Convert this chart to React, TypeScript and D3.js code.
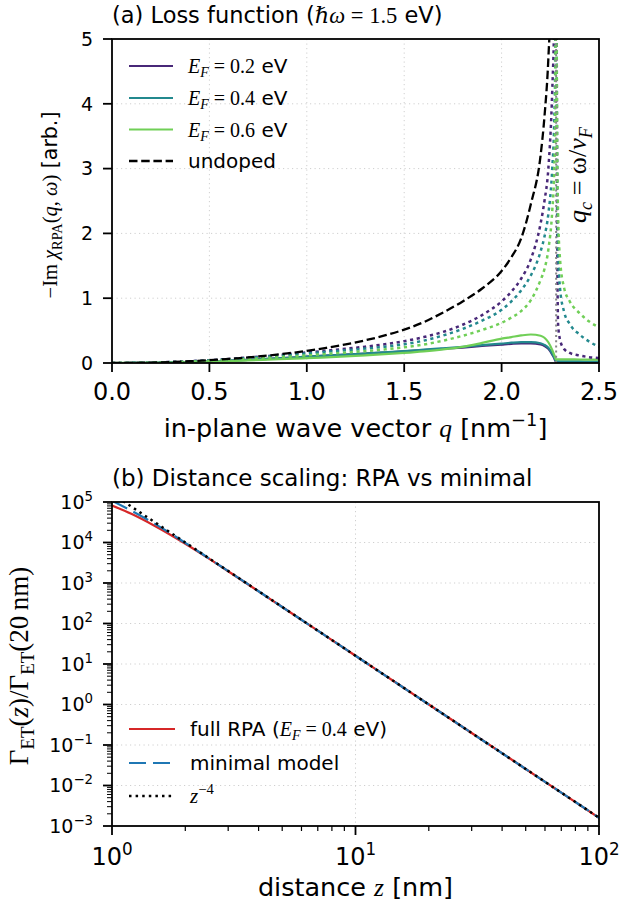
import React from "react";
import * as d3 from "d3";

// ---------- DATA ----------
const qGrid = [0, 0.1, 0.2, 0.3, 0.4, 0.5, 0.6, 0.7, 0.8, 0.9, 1.0, 1.1, 1.2, 1.3, 1.4, 1.5, 1.6, 1.7, 1.8, 1.9, 2.0, 2.05, 2.1, 2.15, 2.2, 2.22, 2.24, 2.26, 2.27, 2.275, 2.28, 2.285, 2.29, 2.3, 2.32, 2.35, 2.4, 2.45, 2.5];

const solidEF02 = [0, 0.001, 0.004, 0.009, 0.016, 0.025, 0.036, 0.049, 0.064, 0.08, 0.097, 0.113, 0.13, 0.146, 0.162, 0.18, 0.198, 0.218, 0.238, 0.262, 0.285, 0.296, 0.303, 0.303, 0.285, 0.262, 0.22, 0.13, 0.075, 0.04, 0.012, 0.01, 0.01, 0.01, 0.01, 0.01, 0.01, 0.01, 0.01];
const solidEF04 = [0, 0.001, 0.004, 0.009, 0.016, 0.025, 0.036, 0.049, 0.064, 0.08, 0.097, 0.113, 0.13, 0.147, 0.165, 0.184, 0.205, 0.227, 0.25, 0.276, 0.3, 0.313, 0.322, 0.323, 0.305, 0.28, 0.235, 0.145, 0.085, 0.05, 0.025, 0.025, 0.025, 0.025, 0.025, 0.024, 0.024, 0.023, 0.023];
const solidEF06 = [0, 0.001, 0.003, 0.008, 0.014, 0.021, 0.03, 0.04, 0.051, 0.063, 0.075, 0.088, 0.102, 0.118, 0.136, 0.156, 0.18, 0.21, 0.25, 0.31, 0.375, 0.4, 0.425, 0.44, 0.42, 0.39, 0.32, 0.2, 0.125, 0.085, 0.05, 0.058, 0.058, 0.057, 0.056, 0.055, 0.054, 0.052, 0.05];

const dottedEF02 = [0, 0.002, 0.007, 0.016, 0.028, 0.044, 0.063, 0.085, 0.108, 0.135, 0.163, 0.19, 0.22, 0.252, 0.29, 0.337, 0.4, 0.48, 0.59, 0.74, 0.95, 1.1, 1.3, 1.6, 2.15, 2.5, 3.0, 4.2, 5.3, 6.5, 9, 2.3, 0.6, 0.36, 0.22, 0.155, 0.115, 0.09, 0.075];
const dottedEF04 = [0, 0.002, 0.006, 0.014, 0.025, 0.04, 0.057, 0.077, 0.098, 0.122, 0.148, 0.172, 0.196, 0.222, 0.252, 0.29, 0.345, 0.425, 0.525, 0.655, 0.82, 0.95, 1.12, 1.35, 1.72, 1.95, 2.3, 3.0, 3.7, 4.5, 7, 3.0, 1.75, 1.15, 0.8, 0.6, 0.44, 0.33, 0.25];
const dottedEF06 = [0, 0.001, 0.005, 0.012, 0.021, 0.033, 0.047, 0.062, 0.079, 0.097, 0.117, 0.138, 0.16, 0.183, 0.21, 0.242, 0.285, 0.345, 0.42, 0.51, 0.62, 0.7, 0.8, 0.97, 1.28, 1.45, 1.75, 2.35, 2.95, 3.7, 6, 3.3, 2.3, 1.6, 1.17, 0.95, 0.77, 0.64, 0.55];

const qUndoped = [0, 0.1, 0.2, 0.3, 0.4, 0.5, 0.6, 0.7, 0.8, 0.9, 1.0, 1.1, 1.2, 1.3, 1.4, 1.5, 1.6, 1.7, 1.8, 1.9, 2.0, 2.05, 2.1, 2.15, 2.2, 2.22, 2.24, 2.26, 2.27];
const undoped = [0, 0.002, 0.007, 0.015, 0.027, 0.043, 0.063, 0.087, 0.115, 0.148, 0.187, 0.233, 0.287, 0.35, 0.425, 0.515, 0.63, 0.78, 0.95, 1.15, 1.42, 1.63, 1.92, 2.45, 3.2, 3.8, 4.7, 6.5, 9];

const qCritical = 2.28;

const zVals = [1, 1.2, 1.5, 2, 2.5, 3, 4, 5, 7, 10, 15, 20, 30, 50, 70, 100];
const fullRPA = [8.2e4, 5.1e4, 2.55e4, 9.3e3, 4.0e3, 1.95e3, 620, 255, 66.5, 16, 3.16, 1, 0.1975, 0.0256, 0.00666, 0.0016];
const minimalModel = [1.07e5, 6.1e4, 2.88e4, 9.8e3, 4.07e3, 1.97e3, 625, 256, 66.6, 16, 3.16, 1, 0.1975, 0.0256, 0.00666, 0.0016];
const powerLaw = [1.6e5, 7.72e4, 3.16e4, 1e4, 4096, 1975, 625, 256, 66.6, 16, 3.16, 1, 0.1975, 0.0256, 0.00666, 0.0016];

const xTicksA = [0, 0.5, 1.0, 1.5, 2.0, 2.5];
const xTickLabelsA = ["0.0", "0.5", "1.0", "1.5", "2.0", "2.5"];
const yTicksA = [0, 1, 2, 3, 4, 5];
const xTicksB = [1, 10, 100];
const xTickExpB = ["0", "1", "2"];
const yTicksB = [1e-3, 1e-2, 1e-1, 1, 1e1, 1e2, 1e3, 1e4, 1e5];
const yTickExpB = ["\u22123", "\u22122", "\u22121", "0", "1", "2", "3", "4", "5"];

const efLabels = ["0.2", "0.4", "0.6"];
const efColors = ["#482878", "#23898e", "#70cf57"];

// ---------- FONTS ----------
const SANS = "'DejaVu Sans', sans-serif";
const MATH = "'Liberation Serif', 'DejaVu Serif', serif";

type Seg = { t: string; m?: boolean; i?: boolean; s?: "sub" | "sup" };

function Rich(props: { x: number; y: number; size: number; anchor?: string; segs: Seg[]; transform?: string }) {
  const { x, y, size, anchor = "start", segs, transform } = props;
  let cur = 0;
  return (
    <text x={x} y={y} fontSize={size} textAnchor={anchor} transform={transform} fill="#000" fontFamily={SANS} style={{ whiteSpace: "pre" }}>
      {segs.map((s, k) => {
        const target = s.s === "sub" ? 0.22 * size : s.s === "sup" ? -0.42 * size : 0;
        const d = target - cur;
        cur = target;
        return (
          <tspan key={k} dy={d} fontFamily={s.m ? MATH : SANS} fontStyle={s.i ? "italic" : "normal"} fontSize={s.s ? size * 0.7 : size}>
            {s.t}
          </tspan>
        );
      })}
    </text>
  );
}

// ---------- LAYOUT ----------
const L = 112, R = 599;
const A_T = 39, A_B = 363;
const B_T = 502, B_B = 826;

const xA = d3.scaleLinear().domain([0, 2.5]).range([L, R]);
const yA = d3.scaleLinear().domain([0, 5]).range([A_B, A_T]);
const xB = d3.scaleLog().domain([1, 100]).range([L, R]);
const yB = d3.scaleLog().domain([1e-3, 1e5]).range([B_B, B_T]);

const lineA = (qs: number[], vs: number[]) =>
  d3.line<number>().x((_, i) => xA(qs[i])).y((v) => yA(v)).curve(d3.curveMonotoneX)(vs) || "";
const lineB = (vs: number[]) =>
  d3.line<number>().x((_, i) => xB(zVals[i])).y((v) => yB(v)).curve(d3.curveMonotoneX)(vs) || "";

const GRID = "#cfcfcf";
const DOT = "3.2,3.6";

export default function App() {
  const solids = [solidEF02, solidEF04, solidEF06];
  const dotted = [dottedEF02, dottedEF04, dottedEF06];
  const minorX: number[] = [];
  [1, 10].forEach((d) => { for (let k = 2; k <= 9; k++) minorX.push(d * k); });
  const minorY: number[] = [];
  for (let e = -3; e < 5; e++) for (let k = 2; k <= 9; k++) minorY.push(k * Math.pow(10, e));

  return (
    <svg width={621} height={906} style={{ position: "absolute", left: 0, top: 0, background: "#fff" }}>
      <defs>
        <clipPath id="clipA"><rect x={L} y={A_T} width={R - L} height={A_B - A_T} /></clipPath>
        <clipPath id="clipB"><rect x={L} y={B_T} width={R - L} height={B_B - B_T} /></clipPath>
      </defs>
      <rect x={0} y={0} width={621} height={906} fill="#fff" />

      {/* ===== Panel A ===== */}
      <Rich x={L} y={23} size={22.5} segs={[
        { t: "(a) Loss function (" }, { t: "\u210F\u03C9", m: true, i: true }, { t: " = 1.5", m: true }, { t: " eV)" },
      ]} />
      {xTicksA.slice(1, -1).map((t) => (
        <line key={"gxa" + t} x1={xA(t)} x2={xA(t)} y1={A_T} y2={A_B} stroke={GRID} strokeWidth={1} strokeDasharray="1.2,3.3" />
      ))}
      {yTicksA.slice(1, -1).map((t) => (
        <line key={"gya" + t} x1={L} x2={R} y1={yA(t)} y2={yA(t)} stroke={GRID} strokeWidth={1} strokeDasharray="1.2,3.3" />
      ))}
      <g clipPath="url(#clipA)" fill="none">
        {solids.map((s, i) => (
          <path key={"s" + i} d={lineA(qGrid, s)} stroke={efColors[i]} strokeWidth={2.2} />
        ))}
        {dotted.map((s, i) => (
          <path key={"d" + i} d={lineA(qGrid, s)} stroke={efColors[i]} strokeWidth={2.5} strokeDasharray={DOT} />
        ))}
        <path d={lineA(qUndoped, undoped)} stroke="#000" strokeWidth={2.3} strokeDasharray="8.5,3.7" />
        <line x1={xA(qCritical)} x2={xA(qCritical)} y1={A_B} y2={A_T} stroke="#888" strokeWidth={2} strokeDasharray="2,3.2" />
      </g>
      <Rich x={586} y={175} size={26} anchor="middle" transform="rotate(-90 586 175)" segs={[
        { t: "q", m: true, i: true }, { t: "c", m: true, i: true, s: "sub" }, { t: " = \u03C9/", m: true }, { t: "v", m: true, i: true }, { t: "F", m: true, i: true, s: "sub" },
      ]} />
      {/* legend A */}
      {efLabels.map((lab, i) => {
        const y = [66, 98, 129.5][i];
        return (
          <g key={"la" + i}>
            <line x1={129} x2={173} y1={y} y2={y} stroke={efColors[i]} strokeWidth={2.2} />
            <Rich x={188} y={y + 7} size={20} segs={[
              { t: "E", m: true, i: true }, { t: "F", m: true, i: true, s: "sub" }, { t: " = " + lab, m: true }, { t: " eV" },
            ]} />
          </g>
        );
      })}
      <line x1={129} x2={173} y1={161} y2={161} stroke="#000" strokeWidth={2.3} strokeDasharray="8.5,3.7" />
      <Rich x={188} y={168} size={20} segs={[{ t: "undoped" }]} />

      {/* axes A */}
      <rect x={L} y={A_T} width={R - L} height={A_B - A_T} fill="none" stroke="#000" strokeWidth={1.8} />
      {xTicksA.map((t, i) => (
        <g key={"xta" + t}>
          <line x1={xA(t)} x2={xA(t)} y1={A_B} y2={A_B + 9} stroke="#000" strokeWidth={1.8} />
          <text x={xA(t)} y={400} fontSize={24} fontFamily={SANS} textAnchor="middle">{xTickLabelsA[i]}</text>
        </g>
      ))}
      {yTicksA.map((t) => (
        <g key={"yta" + t}>
          <line x1={L - 9} x2={L} y1={yA(t)} y2={yA(t)} stroke="#000" strokeWidth={1.8} />
          <text x={93} y={yA(t) + 6.8} fontSize={19} fontFamily={SANS} textAnchor="end">{t}</text>
        </g>
      ))}
      <Rich x={355.5} y={437} size={25.5} anchor="middle" segs={[
        { t: "in-plane wave vector " }, { t: "q", m: true, i: true }, { t: " [nm" }, { t: "\u22121", s: "sup" }, { t: "]" },
      ]} />
      <Rich x={57} y={205} size={20.5} anchor="middle" transform="rotate(-90 57 205)" segs={[
        { t: "\u2212Im ", m: true }, { t: "\u03C7", m: true, i: true }, { t: "RPA", m: true, s: "sub" }, { t: "(", m: true }, { t: "q", m: true, i: true }, { t: ", ", m: true }, { t: "\u03C9", m: true, i: true }, { t: ")", m: true }, { t: " [arb.]" },
      ]} />

      {/* ===== Panel B ===== */}
      <Rich x={L} y={486} size={23} segs={[{ t: "(b) Distance scaling: RPA vs minimal" }]} />
      {xTicksB.slice(1, -1).map((t) => (
        <line key={"gxb" + t} x1={xB(t)} x2={xB(t)} y1={B_T} y2={B_B} stroke={GRID} strokeWidth={1} strokeDasharray="1.2,3.3" />
      ))}
      {yTicksB.slice(1, -1).map((t) => (
        <line key={"gyb" + t} x1={L} x2={R} y1={yB(t)} y2={yB(t)} stroke={GRID} strokeWidth={1} strokeDasharray="1.2,3.3" />
      ))}
      <g clipPath="url(#clipB)" fill="none">
        <path d={lineB(fullRPA)} stroke="#d62728" strokeWidth={2.2} />
        <path d={lineB(minimalModel)} stroke="#1f77b4" strokeWidth={2.2} strokeDasharray="17,7" />
        <path d={lineB(powerLaw)} stroke="#000" strokeWidth={2.5} strokeDasharray="2.5,4.1" />
      </g>
      {/* legend B */}
      <line x1={129} x2={175} y1={729} y2={729} stroke="#d62728" strokeWidth={2.2} />
      <Rich x={190} y={736} size={20} segs={[
        { t: "full RPA (" }, { t: "E", m: true, i: true }, { t: "F", m: true, i: true, s: "sub" }, { t: " = 0.4", m: true }, { t: " eV)" },
      ]} />
      <line x1={129} x2={175} y1={763} y2={763} stroke="#1f77b4" strokeWidth={2.2} strokeDasharray="17,7" />
      <Rich x={190} y={770} size={20} segs={[{ t: "minimal model" }]} />
      <line x1={129} x2={175} y1={796} y2={796} stroke="#000" strokeWidth={2.5} strokeDasharray="2.5,4.1" />
      <Rich x={190} y={803} size={21} segs={[{ t: "z", m: true, i: true }, { t: "\u22124", m: true, s: "sup" }]} />

      {/* axes B */}
      <rect x={L} y={B_T} width={R - L} height={B_B - B_T} fill="none" stroke="#000" strokeWidth={1.8} />
      {minorX.map((t) => (
        <line key={"mxb" + t} x1={xB(t)} x2={xB(t)} y1={B_B} y2={B_B + 5} stroke="#000" strokeWidth={1.2} />
      ))}
      {minorY.map((t, i) => (
        <line key={"myb" + i} x1={L - 5} x2={L} y1={yB(t)} y2={yB(t)} stroke="#000" strokeWidth={1} />
      ))}
      {xTicksB.map((t, i) => (
        <g key={"xtb" + t}>
          <line x1={xB(t)} x2={xB(t)} y1={B_B} y2={B_B + 9} stroke="#000" strokeWidth={1.8} />
          <Rich x={xB(t)} y={865} size={24} anchor="middle" segs={[{ t: "10" }, { t: xTickExpB[i], s: "sup" }]} />
        </g>
      ))}
      {yTicksB.map((t, i) => (
        <g key={"ytb" + i}>
          <line x1={L - 9} x2={L} y1={yB(t)} y2={yB(t)} stroke="#000" strokeWidth={1.8} />
          <Rich x={93} y={yB(t) + 6.8} size={19} anchor="end" segs={[{ t: "10" }, { t: yTickExpB[i], s: "sup" }]} />
        </g>
      ))}
      <Rich x={355.5} y={896} size={25.5} anchor="middle" segs={[
        { t: "distance " }, { t: "z", m: true, i: true }, { t: " [nm]" },
      ]} />
      <Rich x={28} y={666} size={27} anchor="middle" transform="rotate(-90 28 666)" segs={[
        { t: "\u0393", m: true }, { t: "ET", m: true, s: "sub" }, { t: "(", m: true }, { t: "z", m: true, i: true }, { t: ")/\u0393", m: true }, { t: "ET", m: true, s: "sub" }, { t: "(20\u2009nm)", m: true },
      ]} />
    </svg>
  );
}
